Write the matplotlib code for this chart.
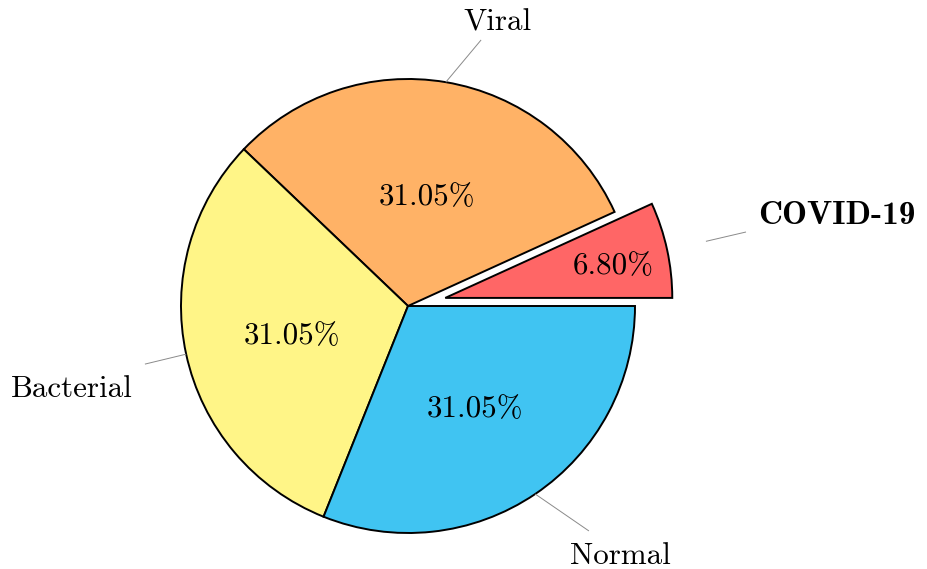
import numpy as np
import matplotlib
matplotlib.use("Agg")
import matplotlib.pyplot as plt

# Class shares of the chest X-ray dataset (percent)
classes = ["COVID-19", "Viral", "Bacterial", "Normal"]
shares = [6.80, 31.05, 31.05, 31.05]
colors = ["#FF6666", "#FFB266", "#FFF587", "#40C4F2"]
explode = [0.168, 0, 0, 0]

# Label layout: (leader start radius, leader end, text anchor, ha, bold)
label_layout = [
    (1.175, (1.489, 0.326), (1.542, 0.414), "left", True),
    (1.0, (0.322, 1.172), (0.396, 1.262), "center", False),
    (1.0, (-1.159, -0.256), (-1.211, -0.352), "right", False),
    (1.0, (0.797, -0.991), (0.934, -1.088), "center", False),
]
pct_radius = [0.755, 0.51, 0.522, 0.524]

fig = plt.figure(figsize=(9.27, 5.69), dpi=100)
ax = fig.add_axes([0, 0, 1, 1])

wedges, _ = ax.pie(
    shares, colors=colors, explode=explode, startangle=0,
    counterclock=True,
    wedgeprops=dict(edgecolor="black", linewidth=1.4),
)

ax.set_xlim(-408 / 227, (927 - 408) / 227)
ax.set_ylim(-263 / 227, 306 / 227)
ax.set_aspect("equal")
ax.axis("off")

regular = "cmr10"
bold = "cmb10"

for w, name, val, (r0, end, txt, ha, is_bold), pr in zip(
        wedges, classes, shares, label_layout, pct_radius):
    mid = np.deg2rad((w.theta1 + w.theta2) / 2)
    cx, cy = w.center
    d = np.array([np.cos(mid), np.sin(mid)])
    # percentage inside the wedge
    ax.text(cx + pr * d[0], cy + pr * d[1] - 0.008, f"{val:.2f}%",
            ha="center", va="center_baseline", fontsize=22.3, family=regular)
    # leader line and class label
    start = (cx + r0 * d[0], cy + r0 * d[1])
    ax.plot([start[0], end[0]], [start[1], end[1]], color="#8a8a8a",
            lw=0.7, solid_capstyle="butt")
    ax.text(txt[0], txt[1], name, ha=ha, va="center_baseline",
            fontsize=24 if is_bold else 22.3,
            family=bold if is_bold else regular)

fig.savefig("out.png", dpi=100)
